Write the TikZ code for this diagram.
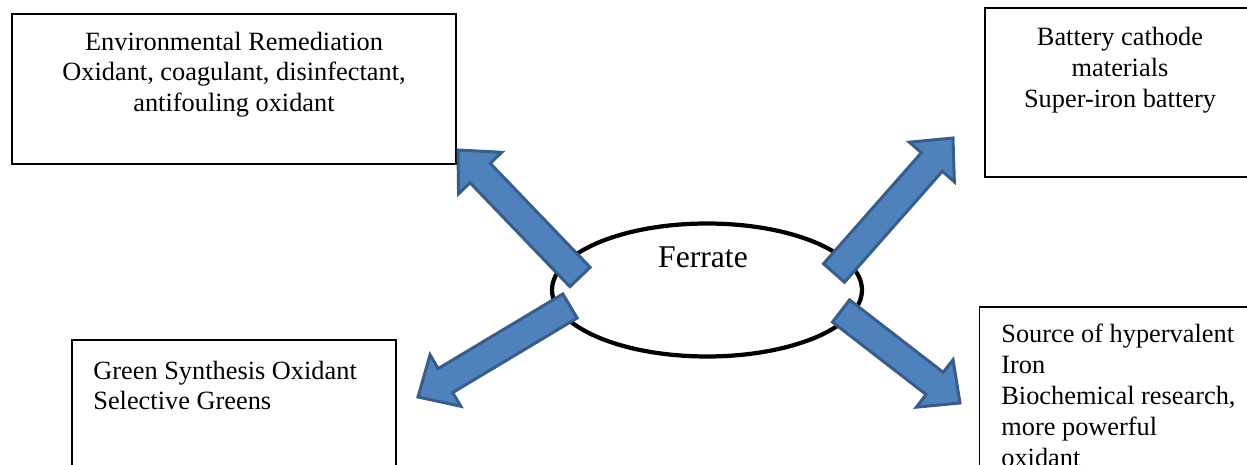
\documentclass[tikz,border=0pt]{standalone}
\usepackage{fontspec}
\setmainfont{Liberation Serif}
\usepackage{xcolor}
\usetikzlibrary{calc,shapes.geometric}

\definecolor{arrowfill}{HTML}{4F81BD}
\definecolor{arrowline}{HTML}{385D8A}

\tikzset{
  usebox/.style={draw=black, line width=1pt, rectangle, inner sep=0pt},
  usetext/.style={inner sep=0pt, font=\fontsize{15}{17.2}\selectfont},
  blockarrow/.style={draw=arrowline, fill=arrowfill, line width=1.7pt, line join=miter},
}

% block arrow from a tail point to a tip point
\newcommand{\blockarrow}[2]{%
  \coordinate (#2-base) at ($(#2)!0.64cm!(#1)$);
  \draw[blockarrow] ($(#1)!0.28cm!90:(#2)$) -- ($(#2-base)!0.28cm!90:(#2)$)
    -- ($(#2-base)!0.6cm!90:(#2)$) -- (#2) -- ($(#2-base)!0.6cm!-90:(#2)$)
    -- ($(#2-base)!0.28cm!-90:(#2)$) -- ($(#1)!0.28cm!-90:(#2)$) -- cycle;}

\begin{document}
\begin{tikzpicture}[x=0.02cm, y=-0.02cm]
	\useasboundingbox (0, 0) rectangle (1247, 465);
	\clip (0, 0) rectangle (1247, 465);
	% Boxes, ellipse and block arrows:
	\node[usebox, minimum width=8.88cm, minimum height=3cm] (envbox) at (234, 89){};
	\node[usetext, anchor=north, align=center] (envtext) at (234, 32){Environmental Remediation\\Oxidant, coagulant, disinfectant,\\antifouling oxidant};
	\node[usebox, minimum width=5.4cm, minimum height=3.38cm] (batbox) at (1120, 92.5){};
	\node[usetext, anchor=north, align=center, font=\fontsize{15}{17.6}\selectfont] (battext) at (1120, 27){Battery cathode\\materials\\Super-iron battery};
	\node[usebox, minimum width=6.48cm, minimum height=3.2cm] (greenbox) at (234, 420){};
	\node[usetext, anchor=north west, align=left] (greentext) at (93, 361){Green Synthesis Oxidant\\Selective Greens};
	\node[usebox, minimum width=5.62cm, minimum height=3.84cm] (sourcebox) at (1120, 403){};
	\node[usetext, anchor=north west, align=left, font=\fontsize{15}{17.6}\selectfont] (sourcetext) at (1001, 324){Source of hypervalent\\Iron\\Biochemical research,\\more powerful\\oxidant};
	\node[ellipse, draw=black, line width=2.4pt, inner sep=0pt, minimum width=6.2cm, minimum height=2.66cm] (ferrate) at (707, 290){};
	\node[inner sep=0pt, font=\fontsize{18}{20}\selectfont] (ferratetext) at (703, 257){Ferrate};
	\coordinate (envtail) at (580, 277);
	\coordinate (envtip) at (458, 150);
	\coordinate (greentail) at (570, 306);
	\coordinate (greentip) at (418, 397);
	\coordinate (battail) at (834, 273);
	\coordinate (battip) at (953, 138);
	\coordinate (sourcetail) at (841, 311);
	\coordinate (sourcetip) at (960, 403);
	\blockarrow{envtail}{envtip}
	\blockarrow{greentail}{greentip}
	\blockarrow{battail}{battip}
	\blockarrow{sourcetail}{sourcetip}
\end{tikzpicture}
\end{document}
